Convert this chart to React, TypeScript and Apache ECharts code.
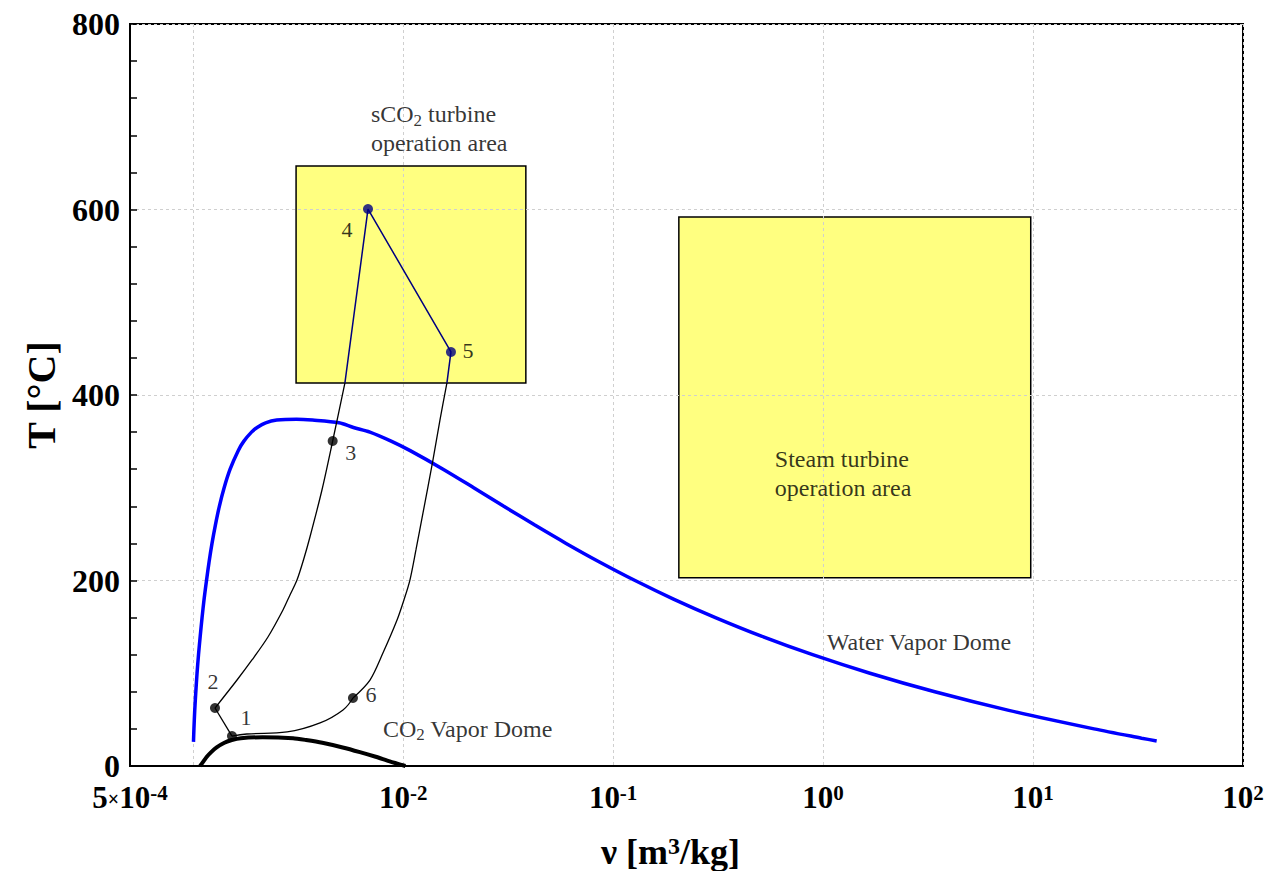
import React, { useEffect, useRef } from 'react';
import * as echarts from 'echarts';

// Water saturation dome (liquid side, then vapour side)
const waterLiqT = [26, 40, 60, 80, 100, 120, 140, 160, 180, 200, 220, 240, 260, 280, 300, 320, 340, 350, 360, 365, 370, 373, 373.95];
const waterLiqV = [0.001003, 0.001008, 0.001017, 0.001029, 0.001043, 0.00106, 0.00108, 0.001102, 0.001127, 0.001157, 0.00119, 0.001229, 0.001276, 0.001332, 0.001404, 0.001499, 0.001638, 0.00174, 0.001895, 0.002016, 0.002213, 0.0025, 0.003106];
const waterVapT = [373, 370, 365, 360, 350, 340, 320, 300, 280, 260, 240, 220, 200, 180, 160, 140, 120, 100, 80, 60, 40, 30, 27];
const waterVapV = [0.0037, 0.004953, 0.005797, 0.006945, 0.008813, 0.0108, 0.01549, 0.02167, 0.03016, 0.04219, 0.05971, 0.08609, 0.1272, 0.1939, 0.3071, 0.5085, 0.8915, 1.672, 3.405, 7.667, 19.52, 32.88, 38.8];

// CO2 saturation dome
const co2LiqT = [0, 5, 10, 15, 20, 25, 28, 30, 31];
const co2LiqV = [0.001078, 0.001119, 0.001161, 0.001218, 0.001293, 0.001408, 0.001527, 0.001686, 0.00214];
const co2VapT = [30, 28, 25, 20, 15, 10, 5, 0];
const co2VapV = [0.00299, 0.00345, 0.00412, 0.00515, 0.00622, 0.0074, 0.00863, 0.01025];

// Cycle paths (v [m3/kg], T [°C])
const path12V = [0.00153, 0.00127];
const path12T = [32.3, 62.5];
const path2boxV = [0.00127, 0.001617, 0.001905, 0.00227, 0.002676, 0.00289, 0.003121, 0.003351, 0.003598, 0.004104, 0.004616, 0.00528];
const path2boxT = [62.5, 92.7, 114.3, 139.1, 168.2, 184.4, 200.5, 222.1, 246.9, 297.6, 350.4, 413];
const path16V = [0.00153, 0.0018, 0.0028, 0.00402, 0.00517, 0.005766];
const path16T = [32.3, 34.5, 36.7, 46.4, 60.4, 73.3];
const path6boxV = [0.005766, 0.00695, 0.00801, 0.00934, 0.010085, 0.01077, 0.011505, 0.01243, 0.01386, 0.01497, 0.01616];
const path6boxT = [73.3, 92.7, 121.8, 157.1, 179, 200.5, 232.9, 272.8, 329.9, 373, 413];
const pathTopV = [0.00528, 0.0068, 0.01689, 0.01616];
const pathTopT = [413, 600.5, 446.4, 413];

// State points
const stateNames = ['1', '2', '3', '4', '5', '6'];
const stateV = [0.00153, 0.00127, 0.004616, 0.0068, 0.01689, 0.005766];
const stateT = [32.3, 62.5, 350.4, 600.5, 446.4, 73.3];

// Operation areas: [vMin, vMax, Tmin, Tmax]
const areaVMin = [0.00309, 0.2056];
const areaVMax = [0.0384, 9.75];
const areaTMin = [413, 203];
const areaTMax = [647, 592];

// Annotations
const annoText = [
  '{t|sCO}{sub|2}{t| turbine}\n{t|operation area}',
  '{t|Steam turbine}\n{t|operation area}',
  '{t|Water Vapor Dome}',
  '{t|CO}{sub|2}{t| Vapor Dome}',
];
const annoV = [0.00702, 0.589, 1.042, 0.00801];
const annoT = [686.8, 315.4, 133.7, 39.9];

const SERIF = '"Liberation Serif", "Times New Roman", serif';

const labelOffsets: Record<string, [number, number]> = {
  '1': [14, -19],
  '2': [-2, -27],
  '3': [18, 11],
  '4': [-21, 20],
  '5': [17, -1],
  '6': [18, -4],
};

const zip = (vs: number[], ts: number[]) => vs.map((v, i) => [v, ts[i]]);

export default function App() {
  const ref = useRef<HTMLDivElement>(null);
  useEffect(() => {
    if (!ref.current) return;
    const chart = echarts.init(ref.current, undefined, { renderer: 'svg' });
    const thin = (name: string, data: number[][], color = '#000', smooth: number | boolean = false, width = 1.3) => ({
      type: 'line',
      name,
      data,
      showSymbol: false,
      smooth,
      lineStyle: { color, width },
      z: 3,
    });
    const option: any = {
      animation: false,
      backgroundColor: '#fff',
      grid: {
        left: 130, right: 25, top: 24, bottom: 105,
        outerBoundsMode: 'none',
        containLabel: false,
        show: true, borderColor: '#000', borderWidth: 2,
      },
      xAxis: {
        type: 'log',
        logBase: 10,
        min: 5e-4,
        max: 100,
        name: '{n|ν [m}{p|3}{n|/kg]}',
        nameLocation: 'middle',
        nameGap: 68,
        nameTextStyle: {
          padding: [0, 32, 0, 0],
          rich: {
            n: { fontFamily: SERIF, fontSize: 36, fontWeight: 'bold', color: '#000' },
            p: { fontFamily: SERIF, fontSize: 24, fontWeight: 'bold', color: '#000', verticalAlign: 'top' },
          },
        },
        axisLine: { lineStyle: { color: '#000', width: 2 } },
        axisTick: { show: false },
        splitLine: { show: true, lineStyle: { color: '#cfcfcf', type: [3, 3], width: 1 } },
        axisLabel: {
          margin: 16,
          showMinLabel: true,
          showMaxLabel: true,
          formatter: (val: number) => {
            if (Math.abs(val - 5e-4) < 1e-7) return '{b|5}{x|×}{b|10}{s|-4}';
            const e = Math.round(Math.log10(val));
            if (e === -3) return '';
            return '{b|10}{s|' + e + '}';
          },
          rich: {
            b: { fontFamily: SERIF, fontSize: 31, fontWeight: 'bold', color: '#000' },
            x: { fontFamily: SERIF, fontSize: 20, fontWeight: 'bold', color: '#000', verticalAlign: 'bottom', padding: [0, 0, 4, 0] },
            s: { fontFamily: SERIF, fontSize: 21, fontWeight: 'bold', color: '#000', verticalAlign: 'top' },
          },
        },
      },
      yAxis: {
        type: 'value',
        min: 0,
        max: 800,
        interval: 200,
        name: 'T [°C]',
        nameLocation: 'middle',
        nameGap: 68,
        nameRotate: 90,
        nameTextStyle: { fontFamily: SERIF, fontSize: 40, fontWeight: 'bold', color: '#000' },
        axisLine: { show: true, lineStyle: { color: '#000', width: 2 } },
        axisTick: { show: true, inside: true, length: 7, lineStyle: { color: '#000', width: 1.5 } },
        minorTick: { show: true, splitNumber: 5, length: 7, lineStyle: { color: '#000', width: 1.5 } },
        splitLine: { show: true, lineStyle: { color: '#cfcfcf', type: [3, 3], width: 1 } },
        axisLabel: { fontFamily: SERIF, fontSize: 32, fontWeight: 'bold', color: '#000', margin: 10 },
      },
      series: [
        {
          type: 'custom',
          name: 'areas',
          z: -1,
          encode: { x: [0, 1], y: [2, 3] },
          data: areaVMin.map((v, i) => [v, areaVMax[i], areaTMin[i], areaTMax[i]]),
          renderItem: (params: any, api: any) => {
            const p1 = api.coord([api.value(0), api.value(3)]);
            const p2 = api.coord([api.value(1), api.value(2)]);
            return {
              type: 'rect',
              shape: { x: p1[0], y: p1[1], width: p2[0] - p1[0], height: p2[1] - p1[1] },
              style: { fill: '#ffff80', stroke: '#000', lineWidth: 1.5 },
            };
          },
        },
        {
          type: 'line',
          name: 'Water Vapor Dome',
          data: [...zip(waterLiqV, waterLiqT), ...zip(waterVapV, waterVapT)],
          showSymbol: false,
          smooth: 0.3,
          lineStyle: { color: '#0000ff', width: 3.5 },
          z: 2,
        },
        {
          type: 'line',
          name: 'CO2 Vapor Dome',
          data: [...zip(co2LiqV, co2LiqT), ...zip(co2VapV, co2VapT)],
          showSymbol: false,
          smooth: 0.2,
          lineStyle: { color: '#000', width: 4 },
          z: 2,
        },
        thin('1-2', zip(path12V, path12T)),
        thin('2-box', zip(path2boxV, path2boxT), '#000', 0.3),
        thin('1-6', zip(path16V, path16T), '#000', 0.4),
        thin('6-box', zip(path6boxV, path6boxT), '#000', 0.3),
        thin('top', zip(pathTopV, pathTopT), '#000080', false, 1.5),
        {
          type: 'scatter',
          name: 'states',
          z: 5,
          symbolSize: 10,
          data: stateNames.map((n, i) => ({
            name: n,
            value: [stateV[i], stateT[i]],
            itemStyle: { color: n === '4' || n === '5' ? '#000080' : '#000' },
            label: {
              show: true,
              position: 'inside',
              offset: labelOffsets[n],
              formatter: n,
              fontFamily: SERIF,
              fontSize: 22,
              color: '#000',
            },
          })),
        },
        {
          type: 'scatter',
          name: 'annotations',
          symbolSize: 0,
          z: 6,
          data: annoText.map((t, i) => ({ value: [annoV[i], annoT[i]], t })),
          label: {
            show: true,
            position: 'right',
            distance: 0,
            align: 'left',
            formatter: (p: any) => p.data.t,
            rich: {
              t: { fontFamily: SERIF, fontSize: 24, color: '#000', lineHeight: 29 },
              sub: { fontFamily: SERIF, fontSize: 17, color: '#000', verticalAlign: 'bottom', padding: [12, 0, 0, 0] },
            },
          },
        },
      ],
    };
    chart.setOption(option);
    return () => chart.dispose();
  }, []);
  return <div ref={ref} style={{ position: 'absolute', left: 0, top: 0, width: 1268, height: 871 }} />;
}
